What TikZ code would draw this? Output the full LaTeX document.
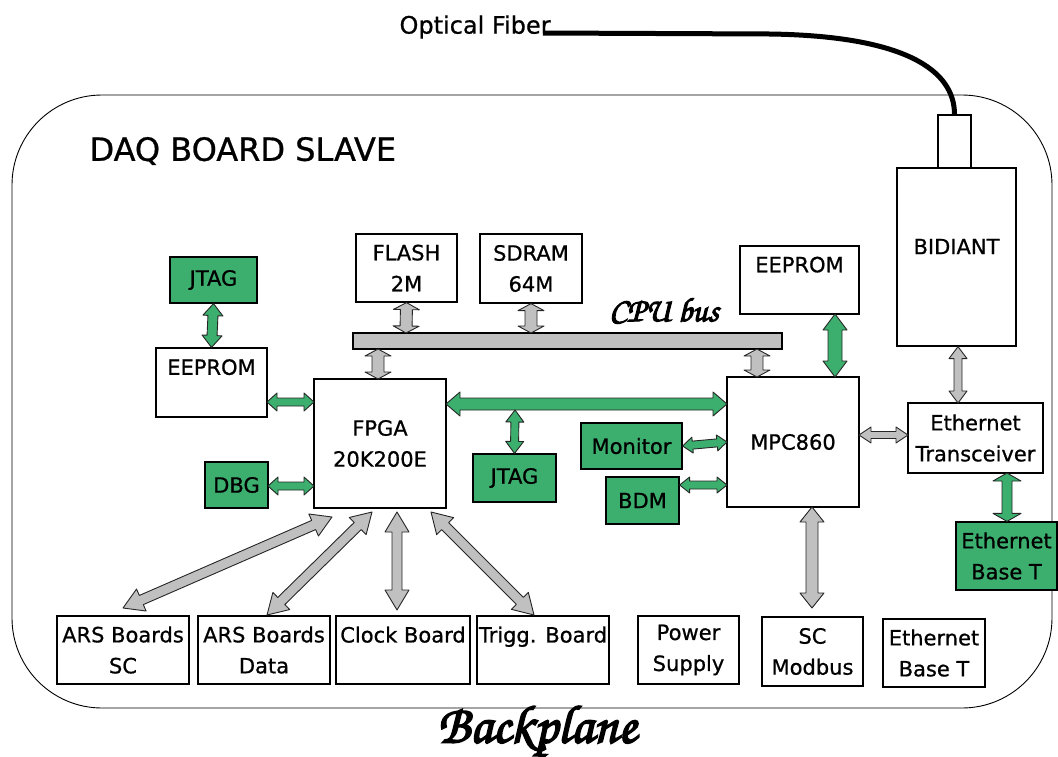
\documentclass[tikz,border=0pt]{standalone}
\usepackage{fontspec}
\setmainfont{DejaVu Sans}[FakeBold=0.8]
\newfontfamily\chorus{texgyrechorus-mediumitalic.otf}[FakeBold=3]
\usetikzlibrary{calc}
\definecolor{bgreen}{RGB}{60,175,110}
\definecolor{bgrey}{RGB}{192,192,192}
\tikzset{
  box/.style={draw=black, line width=1.2pt, fill=white, inner sep=0pt, align=center,
              font=\fontsize{21}{31}\selectfont},
  gbox/.style={box, fill=bgreen},
  garr/.style={fill=bgreen, draw=black!85, line width=0.9pt, line join=round},
  sarr/.style={fill=bgrey, draw=black!85, line width=0.9pt, line join=round},
}
% double block arrow: style, from, to, head length, head half width, shaft half width
\newcommand\darrow[6]{%
  \filldraw[#1] (#2)
   -- ($(#2)!#4!(#3)!#5!90:(#3)$)
   -- ($(#2)!#4!(#3)!#6!90:(#3)$)
   -- ($(#3)!#4!(#2)!#6!-90:(#2)$)
   -- ($(#3)!#4!(#2)!#5!-90:(#2)$)
   -- (#3)
   -- ($(#3)!#4!(#2)!#5!90:(#2)$)
   -- ($(#3)!#4!(#2)!#6!90:(#2)$)
   -- ($(#2)!#4!(#3)!#6!-90:(#3)$)
   -- ($(#2)!#4!(#3)!#5!-90:(#3)$)
   -- cycle;}
\begin{document}
\begin{tikzpicture}[x=1pt,y=-1pt]
\useasboundingbox (0,0) rectangle (1058,756);
% outer board
\draw[line width=0.9pt, rounded corners=90pt] (12,95) rectangle (1052,708);
\node[anchor=west, font=\fontsize{32}{36}\selectfont] (daq) at (86,151) {DAQ BOARD SLAVE};

% optical fiber
\node[anchor=west, font=\fontsize{24}{28}\selectfont] (ofl) at (396,27) {Optical Fiber};
\node[box, minimum width=33pt, minimum height=53pt] (conn) at (954.5,141.5) {};
\coordinate (fstart) at (543,33);
\draw[line width=5pt] (fstart) -- (770,34) .. controls (905,36) and (954.5,70) .. (conn.north);

% boxes
\node[gbox, minimum width=87pt, minimum height=46pt] (jtagL) at (213.5,280) {JTAG};
\node[box, minimum width=111pt, minimum height=69pt] (eepL) at (211.5,382.5) {EEPROM\\\mbox{}};
\node[gbox, minimum width=63pt, minimum height=46pt] (dbg) at (236.5,485) {DBG};
\node[box, minimum width=132pt, minimum height=129pt] (fpga) at (380,443.5) {FPGA\\20K200E};
\node[box, minimum width=101pt, minimum height=68pt] (flash) at (406.5,268) {FLASH\\2M};
\node[box, minimum width=102pt, minimum height=69pt] (sdram) at (531,268.5) {SDRAM\\64M};
\node[draw=black, line width=1.2pt, fill=bgrey, minimum width=429pt, minimum height=16pt, inner sep=0pt] (bus) at (567.5,341) {};
\node[font=\chorus\fontsize{34}{36}\selectfont] (buslbl) at (664,311) {CPU bus};
\node[box, minimum width=119pt, minimum height=68pt] (eepR) at (799.5,280) {EEPROM\\\mbox{}};
\node[box, minimum width=132pt, minimum height=130pt] (mpc) at (793,442) {MPC860};
\node[gbox, minimum width=83pt, minimum height=48pt] (jtagM) at (514.5,478) {JTAG};
\node[gbox, minimum width=101pt, minimum height=46pt] (mon) at (631.5,446) {Monitor};
\node[gbox, minimum width=73pt, minimum height=47pt] (bdm) at (642.5,500.5) {BDM};
\node[box, minimum width=119pt, minimum height=178pt] (bidi) at (956.5,257) {BIDIANT\\[-10pt]\mbox{}};
\node[box, minimum width=135pt, minimum height=70pt] (etr) at (975.5,438) {Ethernet\\Transceiver};
\node[gbox, minimum width=101pt, minimum height=68pt] (ebtg) at (1006.5,556) {Ethernet\\Base T};

\node[box, minimum width=132pt, minimum height=68pt] (arssc) at (123,650) {ARS Boards\\SC};
\node[box, minimum width=132pt, minimum height=68pt] (arsdata) at (264,650) {ARS Boards\\Data};
\node[box, minimum width=134pt, minimum height=68pt] (clock) at (403,650) {Clock Board\\\mbox{}};
\node[box, minimum width=132pt, minimum height=68pt] (trigg) at (543,650) {Trigg. Board\\\mbox{}};
\node[box, minimum width=101pt, minimum height=68pt] (power) at (688.5,650) {Power\\Supply};
\node[box, minimum width=101pt, minimum height=69pt] (scmod) at (812.5,651.5) {SC\\Modbus};
\node[box, minimum width=102pt, minimum height=68pt] (ebtw) at (934,653) {Ethernet\\Base T};

\node[font=\chorus\fontsize{54}{56}\selectfont, inner sep=0pt] (bp) at (537,731) {Backplane};

% arrow end points
\coordinate (e1) at (267,402);  \coordinate (f1) at (314,402);
\coordinate (e2) at (268,486);  \coordinate (f2) at (314,486);
\coordinate (b1) at (406,333);  \coordinate (b2) at (531,333);
\coordinate (b3) at (378,349);  \coordinate (m3) at (378,379);
\coordinate (b4) at (757,349);  \coordinate (m4) at (757,377);
\coordinate (fm1) at (446,404); \coordinate (fm2) at (727,404);
\coordinate (jm1) at (515,410);
\coordinate (mo1) at (727,442); \coordinate (bd1) at (727,485);
\coordinate (er1) at (835,314); \coordinate (er2) at (835,377);
\coordinate (bt1) at (958,403);
\coordinate (me1) at (859,435); \coordinate (me2) at (908,435);
\coordinate (et1) at (1007,473);
\coordinate (ms1) at (812,507); \coordinate (ms2) at (812,608);
\coordinate (p1) at (332,517); \coordinate (q1) at (123,608);
\coordinate (p2) at (372,512); \coordinate (q2) at (267,615);
\coordinate (p3) at (397,512); \coordinate (q3) at (397,610);
\coordinate (p4) at (431,512); \coordinate (q4) at (534,615);

% green arrows
\darrow{garr}{jtagL.south}{eepL.north}{12pt}{10pt}{5pt}
\darrow{garr}{e1}{f1}{10pt}{9pt}{4pt}
\darrow{garr}{e2}{f2}{10pt}{9pt}{4pt}
\darrow{garr}{fm1}{fm2}{14pt}{12pt}{6pt}
\darrow{garr}{jm1}{jtagM.north}{12pt}{9pt}{4pt}
\darrow{garr}{mon.east}{mo1}{10pt}{8pt}{4pt}
\darrow{garr}{bd1}{bdm.east |- bd1}{10pt}{8pt}{4pt}
\darrow{garr}{er1}{er2}{16pt}{12pt}{7pt}
\darrow{garr}{et1}{ebtg.north -| et1}{8pt}{14pt}{5pt}

% grey arrows
\darrow{sarr}{flash.south}{b1}{7pt}{13pt}{6pt}
\darrow{sarr}{sdram.south}{b2}{7pt}{13pt}{6pt}
\darrow{sarr}{b3}{m3}{7pt}{13pt}{6pt}
\darrow{sarr}{b4}{m4}{7pt}{13pt}{6pt}
\darrow{sarr}{bidi.south -| bt1}{bt1}{12pt}{9pt}{4pt}
\darrow{sarr}{me1}{me2}{12pt}{8pt}{3.5pt}
\darrow{sarr}{ms1}{ms2}{15pt}{12pt}{6pt}
\darrow{sarr}{p1}{q1}{20pt}{12pt}{5pt}
\darrow{sarr}{p2}{q2}{20pt}{12pt}{5pt}
\darrow{sarr}{p3}{q3}{20pt}{12pt}{5pt}
\darrow{sarr}{p4}{q4}{20pt}{12pt}{5pt}
\end{tikzpicture}
\end{document}
